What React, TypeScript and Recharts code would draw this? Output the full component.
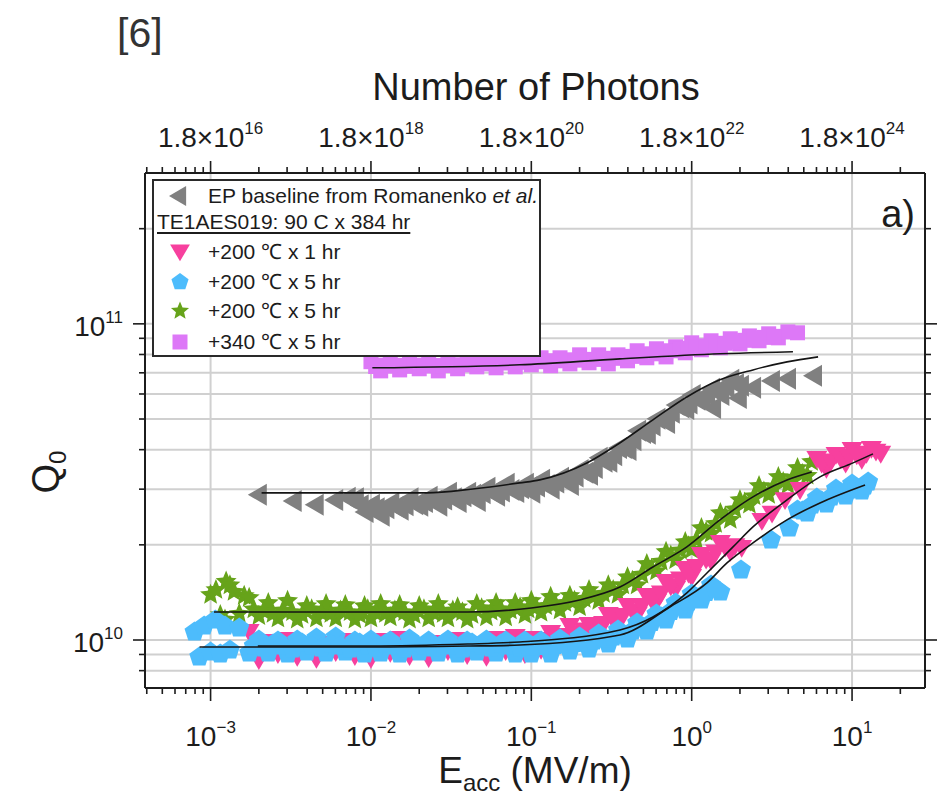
import React from 'react';
import { ScatterChart, Scatter, XAxis, YAxis, CartesianGrid, Legend } from 'recharts';

const FONT = '"Liberation Sans", Arial, Helvetica, sans-serif';
const INK = '#1c1c1c';

const C_GRAY = '#808080';
const C_PINK = '#f7409e';
const C_BLUE = '#4dbcfc';
const C_GREEN = '#66a31a';
const C_MAG = '#dd78f7';

const X_DOMAIN: [number, number] = [3.9e-4, 28.5];
const Y_DOMAIN: [number, number] = [7.05e9, 3.0e11];

const X_TICKS = [
  4e-4, 5e-4, 6e-4, 7e-4, 8e-4, 9e-4,
  1e-3, 2e-3, 3e-3, 4e-3, 5e-3, 6e-3, 7e-3, 8e-3, 9e-3,
  1e-2, 2e-2, 3e-2, 4e-2, 5e-2, 6e-2, 7e-2, 8e-2, 9e-2,
  1e-1, 2e-1, 3e-1, 4e-1, 5e-1, 6e-1, 7e-1, 8e-1, 9e-1,
  1, 2, 3, 4, 5, 6, 7, 8, 9, 10, 20,
];
const X_GRID = [1e-3, 1e-2, 1e-1, 1, 10];
const Y_TICKS = [8e9, 9e9, 1e10, 2e10, 3e10, 4e10, 5e10, 6e10, 7e10, 8e10, 9e10, 1e11, 2e11];
const Y_GRID = [8e9, 9e9, 1e10, 2e10, 3e10, 4e10, 5e10, 6e10, 7e10, 8e10, 9e10, 1e11, 2e11];
const PHOTON_EXP: Record<string, number> = { '-3': 16, '-2': 18, '-1': 20, '0': 22, '1': 24 };

const LEGEND_HEAD = 'EP baseline from Romanenko ';
const LEGEND_SUB = 'TE1AES019: 90 C x 384 hr';
const LEGEND_ROWS = ['+200 \u2103 x 1 hr', '+200 \u2103 x 5 hr', '+200 \u2103 x 5 hr', '+340 \u2103 x 5 hr'];

// EP baseline (gray, left triangles)
const EP_BASELINE: [number, number][] = [
  [1.97e-3, 2.88e10], [3.25e-3, 2.75e10], [4.46e-3, 2.68e10], [5.9e-3, 2.77e10], [7.06e-3, 2.82e10],
  [7.94e-3, 2.81e10], [9.12e-3, 2.54e10], [1.0e-2, 2.68e10], [1.15e-2, 2.47e10], [1.32e-2, 2.71e10],
  [1.51e-2, 2.58e10], [1.74e-2, 2.81e10], [2.0e-2, 2.66e10], [2.29e-2, 2.84e10], [2.63e-2, 2.66e10],
  [3.02e-2, 2.92e10], [3.47e-2, 2.73e10], [3.98e-2, 2.92e10], [4.57e-2, 2.75e10], [5.25e-2, 3.03e10],
  [6.03e-2, 2.86e10], [6.92e-2, 3.12e10], [7.94e-2, 2.94e10], [9.12e-2, 3.12e10], [1.0e-1, 2.92e10],
  [1.15e-1, 3.21e10], [1.32e-1, 3.01e10], [1.51e-1, 3.26e10], [1.74e-1, 3.09e10], [2.0e-1, 3.45e10],
  [2.29e-1, 3.33e10], [2.63e-1, 3.77e10], [3.02e-1, 3.66e10], [3.47e-1, 4.05e10], [3.98e-1, 3.99e10],
  [4.57e-1, 4.59e10], [5.25e-1, 4.49e10], [6.03e-1, 5.01e10], [6.92e-1, 4.86e10], [7.94e-1, 5.54e10],
  [9.12e-1, 5.38e10], [1.0, 5.96e10], [1.15, 5.71e10], [1.32, 6.23e10], [1.51, 5.96e10],
  [1.74, 6.65e10], [2.0, 6.37e10],
  [1.34, 5.42e10], [1.94, 5.83e10], [2.38, 6.28e10], [3.12, 6.6e10], [3.93, 6.7e10], [5.71, 6.85e10],
];
const EP_BASELINE_MID: [number, number][] = [
  [8.51e-3, 2.67e10], [9.55e-3, 2.63e10], [1.07e-2, 2.61e10], [1.23e-2, 2.61e10], [1.41e-2, 2.64e10],
  [1.62e-2, 2.67e10], [1.86e-2, 2.69e10], [2.14e-2, 2.73e10], [2.45e-2, 2.76e10], [2.82e-2, 2.78e10],
  [3.24e-2, 2.81e10], [3.72e-2, 2.85e10], [4.27e-2, 2.88e10], [4.9e-2, 2.91e10], [5.62e-2, 2.93e10],
  [6.46e-2, 2.95e10], [7.41e-2, 2.98e10], [8.51e-2, 3.02e10], [9.55e-2, 3.04e10],
  [1.07e-1, 3.06e10], [1.23e-1, 3.09e10], [1.41e-1, 3.15e10], [1.62e-1, 3.22e10], [1.86e-1, 3.29e10],
  [2.14e-1, 3.38e10], [2.45e-1, 3.5e10], [2.82e-1, 3.66e10], [3.24e-1, 3.84e10], [3.72e-1, 4.05e10],
  [4.27e-1, 4.28e10], [4.9e-1, 4.52e10], [5.62e-1, 4.77e10], [6.46e-1, 5.01e10], [7.41e-1, 5.23e10],
  [8.51e-1, 5.44e10], [9.55e-1, 5.6e10], [1.07, 5.75e10], [1.23, 5.94e10], [1.41, 6.14e10],
  [1.62, 6.3e10], [1.86, 6.44e10],
];

// +200 C x 5 hr (green stars)
const GREEN_PTS: [number, number][] = [
  [1.0e-3, 1.39e10], [1.08e-3, 1.44e10], [1.15e-3, 1.2e10], [1.23e-3, 1.16e10], [1.25e-3, 1.53e10],
  [1.32e-3, 1.49e10], [1.4e-3, 1.42e10], [1.51e-3, 1.21e10], [1.62e-3, 1.38e10], [1.74e-3, 1.36e10],
  [2.0e-3, 1.19e10], [2.29e-3, 1.31e10], [2.63e-3, 1.17e10], [3.02e-3, 1.33e10], [3.47e-3, 1.16e10],
  [3.98e-3, 1.28e10], [4.57e-3, 1.17e10], [5.25e-3, 1.3e10], [6.03e-3, 1.17e10], [6.92e-3, 1.29e10],
  [7.94e-3, 1.16e10], [9.12e-3, 1.28e10],
  [1.0e-2, 1.17e10], [1.15e-2, 1.3e10], [1.32e-2, 1.18e10], [1.51e-2, 1.29e10], [1.74e-2, 1.16e10],
  [2.0e-2, 1.28e10], [2.29e-2, 1.17e10], [2.63e-2, 1.3e10], [3.02e-2, 1.17e10], [3.47e-2, 1.27e10],
  [3.98e-2, 1.16e10], [4.57e-2, 1.3e10], [5.25e-2, 1.18e10], [6.03e-2, 1.31e10], [6.92e-2, 1.18e10],
  [7.94e-2, 1.31e10], [9.12e-2, 1.2e10],
  [1.0e-1, 1.33e10], [1.15e-1, 1.22e10], [1.32e-1, 1.37e10], [1.51e-1, 1.24e10], [1.74e-1, 1.38e10],
  [2.0e-1, 1.27e10], [2.29e-1, 1.44e10], [2.63e-1, 1.33e10], [3.02e-1, 1.49e10], [3.47e-1, 1.39e10],
  [3.98e-1, 1.58e10], [4.57e-1, 1.49e10], [5.25e-1, 1.74e10], [6.03e-1, 1.65e10], [6.92e-1, 1.9e10],
  [7.94e-1, 1.79e10], [9.12e-1, 2.04e10],
  [1.0, 1.93e10], [1.15, 2.26e10], [1.32, 2.17e10], [1.51, 2.52e10], [1.74, 2.4e10], [2.0, 2.77e10],
  [2.29, 2.68e10], [2.63, 3.07e10], [3.02, 2.88e10], [3.47, 3.28e10], [3.98, 3.09e10], [4.57, 3.5e10],
  [5.25, 3.31e10], [5.6, 3.66e10],
];
const GREEN_MID: [number, number][] = [
  [1.86e-3, 1.25e10], [2.14e-3, 1.235e10], [2.45e-3, 1.21e10], [2.82e-3, 1.24e10], [3.24e-3, 1.225e10],
  [3.72e-3, 1.2e10], [4.27e-3, 1.25e10], [4.9e-3, 1.22e10], [5.62e-3, 1.21e10], [6.46e-3, 1.24e10],
  [7.41e-3, 1.225e10], [8.51e-3, 1.2e10], [9.55e-3, 1.25e10],
  [1.07e-2, 1.22e10], [1.23e-2, 1.21e10], [1.41e-2, 1.24e10], [1.62e-2, 1.225e10], [1.86e-2, 1.2e10],
  [2.14e-2, 1.25e10], [2.45e-2, 1.22e10], [2.82e-2, 1.21e10], [3.24e-2, 1.24e10], [3.72e-2, 1.225e10],
  [4.27e-2, 1.2e10], [4.9e-2, 1.26e10], [5.62e-2, 1.23e10], [6.46e-2, 1.25e10], [7.41e-2, 1.24e10],
  [8.51e-2, 1.27e10], [9.55e-2, 1.25e10],
  [1.07e-1, 1.27e10], [1.23e-1, 1.28e10], [1.41e-1, 1.3e10], [1.62e-1, 1.31e10], [1.86e-1, 1.33e10],
  [2.14e-1, 1.35e10], [2.45e-1, 1.37e10], [2.82e-1, 1.4e10], [3.24e-1, 1.44e10], [3.72e-1, 1.49e10],
  [4.27e-1, 1.54e10], [4.9e-1, 1.61e10], [5.62e-1, 1.68e10], [6.46e-1, 1.77e10], [7.41e-1, 1.85e10],
  [8.51e-1, 1.92e10], [9.55e-1, 1.98e10],
  [1.07, 2.07e10], [1.23, 2.2e10], [1.41, 2.33e10], [1.62, 2.46e10], [1.86, 2.59e10], [2.14, 2.72e10],
  [2.45, 2.85e10], [2.82, 2.95e10], [3.24, 3.06e10], [3.72, 3.16e10], [4.27, 3.26e10], [4.9, 3.35e10],
];

// +200 C x 1 hr (pink down triangles)
const PINK_PTS: [number, number][] = [
  [1.74e-3, 1.06e10], [2.0e-3, 8.64e9], [2.29e-3, 9.86e9], [2.63e-3, 9.03e9], [3.02e-3, 1.0e10],
  [3.47e-3, 8.84e9], [3.98e-3, 9.5e9], [4.57e-3, 8.71e9], [5.25e-3, 9.71e9], [6.03e-3, 9.16e9],
  [6.92e-3, 9.93e9], [7.94e-3, 8.9e9], [9.12e-3, 9.57e9],
  [1.0e-2, 8.71e9], [1.15e-2, 9.93e9], [1.32e-2, 9.1e9], [1.51e-2, 1.007e10], [1.74e-2, 8.9e9],
  [2.0e-2, 9.57e9], [2.29e-2, 8.77e9], [2.63e-2, 9.78e9], [3.02e-2, 9.23e9], [3.47e-2, 1.0e10],
  [3.98e-2, 8.96e9], [4.57e-2, 9.64e9], [5.25e-2, 8.84e9], [6.03e-2, 1.007e10], [6.92e-2, 9.23e9],
  [7.94e-2, 1.022e10], [9.12e-2, 9.03e9],
  [1.0e-1, 1.007e10], [1.15e-1, 9.3e9], [1.32e-1, 1.052e10], [1.51e-1, 1.007e10], [1.74e-1, 1.107e10],
  [2.0e-1, 1.015e10], [2.29e-1, 1.116e10], [2.63e-1, 1.06e10], [3.02e-1, 1.2e10], [3.47e-1, 1.14e10],
  [3.98e-1, 1.281e10], [4.57e-1, 1.2e10], [5.25e-1, 1.378e10], [6.03e-1, 1.319e10], [6.92e-1, 1.526e10],
  [7.94e-1, 1.45e10], [9.12e-1, 1.677e10],
  [1.0, 1.583e10], [1.15, 1.858e10], [1.32, 1.778e10], [1.51, 2.028e10], [1.74, 1.899e10], [2.05, 1.955e10],
  [2.74, 2.38e10], [3.17, 2.51e10], [3.82, 2.77e10], [4.74, 2.98e10],
  [6.03, 3.74e10], [6.92, 3.48e10], [7.94, 3.85e10], [9.12, 3.61e10], [10.0, 3.99e10], [11.5, 3.71e10],
  [13.2, 4.02e10], [15.1, 3.88e10],
];
const PINK_MID: [number, number][] = [
  [1.07e-1, 9.89e9], [1.23e-1, 1.0e10], [1.41e-1, 1.015e10], [1.62e-1, 1.03e10], [1.86e-1, 1.048e10],
  [2.14e-1, 1.072e10], [2.45e-1, 1.095e10], [2.82e-1, 1.124e10], [3.24e-1, 1.157e10], [3.72e-1, 1.191e10],
  [4.27e-1, 1.231e10], [4.9e-1, 1.281e10], [5.62e-1, 1.339e10], [6.46e-1, 1.403e10], [7.41e-1, 1.477e10],
  [8.51e-1, 1.554e10], [9.55e-1, 1.623e10],
  [1.07, 1.702e10], [1.23, 1.797e10], [1.41, 1.89e10], [1.62, 1.963e10], [1.86, 1.98e10],
  [6.46, 3.61e10], [7.41, 3.67e10], [8.51, 3.74e10], [9.55, 3.8e10], [10.7, 3.84e10], [12.3, 3.88e10],
  [14.1, 3.94e10],
];

// +200 C x 5 hr (blue pentagons)
const BLUE_PTS: [number, number][] = [
  [7.94e-4, 1.06e10], [8.5e-4, 8.84e9], [9.12e-4, 1.107e10], [1.0e-3, 9.16e9], [1.07e-3, 1.157e10],
  [1.15e-3, 9.03e9], [1.23e-3, 1.107e10], [1.32e-3, 9.3e9], [1.51e-3, 1.091e10], [1.74e-3, 9.1e9],
  [2.0e-3, 1.0e10], [2.29e-3, 9.1e9], [2.63e-3, 9.93e9], [3.02e-3, 9.03e9], [3.47e-3, 1.0e10],
  [3.98e-3, 9.16e9], [4.57e-3, 1.015e10], [5.25e-3, 9.1e9], [6.03e-3, 1.022e10], [6.92e-3, 9.16e9],
  [7.94e-3, 9.93e9], [9.12e-3, 9.03e9],
  [1.0e-2, 1.0e10], [1.15e-2, 9.1e9], [1.32e-2, 9.93e9], [1.51e-2, 9.03e9], [1.74e-2, 1.007e10],
  [2.0e-2, 9.16e9], [2.29e-2, 9.93e9], [2.63e-2, 9.1e9], [3.02e-2, 1.0e10], [3.47e-2, 9.03e9],
  [3.98e-2, 9.93e9], [4.57e-2, 9.16e9], [5.25e-2, 1.0e10], [6.03e-2, 9.1e9], [6.92e-2, 9.93e9],
  [7.94e-2, 9.03e9], [9.12e-2, 9.93e9],
  [1.0e-1, 9.03e9], [1.15e-1, 9.93e9], [1.32e-1, 9.03e9], [1.51e-1, 1.007e10], [1.74e-1, 9.23e9],
  [2.0e-1, 1.022e10], [2.29e-1, 9.37e9], [2.63e-1, 1.045e10], [3.02e-1, 9.71e9], [3.47e-1, 1.076e10],
  [3.98e-1, 1.007e10], [4.57e-1, 1.132e10], [5.25e-1, 1.068e10], [6.03e-1, 1.208e10], [6.92e-1, 1.157e10],
  [7.94e-1, 1.31e10], [9.12e-1, 1.244e10],
  [1.0, 1.398e10], [1.15, 1.339e10], [1.32, 1.493e10], [1.51, 1.419e10],
  [2.03, 1.665e10], [3.12, 2.073e10], [4.05, 2.262e10],
  [4.57, 2.579e10], [5.25, 2.523e10], [6.03, 2.814e10], [6.92, 2.694e10], [7.94, 3.005e10],
  [9.12, 2.856e10], [10.0, 3.116e10], [11.5, 2.962e10], [12.6, 3.162e10],
];
const BLUE_MID: [number, number][] = [
  [1.86e-3, 9.57e9], [2.14e-3, 9.43e9], [2.45e-3, 9.71e9], [2.82e-3, 9.57e9], [3.24e-3, 9.37e9],
  [3.72e-3, 9.78e9], [4.27e-3, 9.57e9], [4.9e-3, 9.43e9], [5.62e-3, 9.71e9], [6.46e-3, 9.57e9],
  [7.41e-3, 9.37e9], [8.51e-3, 9.78e9], [9.55e-3, 9.57e9],
  [1.07e-2, 9.43e9], [1.23e-2, 9.71e9], [1.41e-2, 9.57e9], [1.62e-2, 9.37e9], [1.86e-2, 9.78e9],
  [2.14e-2, 9.57e9], [2.45e-2, 9.43e9], [2.82e-2, 9.71e9], [3.24e-2, 9.57e9], [3.72e-2, 9.37e9],
  [4.27e-2, 9.78e9], [4.9e-2, 9.57e9], [5.62e-2, 9.43e9], [6.46e-2, 9.71e9], [7.41e-2, 9.57e9],
  [8.51e-2, 9.43e9], [9.55e-2, 9.5e9],
  [1.07e-1, 9.53e9], [1.23e-1, 9.57e9], [1.41e-1, 9.6e9], [1.62e-1, 9.67e9], [1.86e-1, 9.75e9],
  [2.14e-1, 9.82e9], [2.45e-1, 9.93e9], [2.82e-1, 1.007e10], [3.24e-1, 1.022e10], [3.72e-1, 1.041e10],
  [4.27e-1, 1.068e10], [4.9e-1, 1.099e10], [5.62e-1, 1.136e10], [6.46e-1, 1.182e10], [7.41e-1, 1.231e10],
  [8.51e-1, 1.277e10], [9.55e-1, 1.319e10],
  [1.07, 1.363e10], [1.23, 1.414e10], [1.41, 1.45e10],
  [4.9, 2.56e10], [5.62, 2.675e10], [6.46, 2.754e10], [7.41, 2.835e10], [8.51, 2.92e10], [9.55, 2.984e10],
  [10.7, 3.027e10], [12.0, 3.072e10],
];

// +340 C x 5 hr (magenta squares)
const MAG_PTS: [number, number][] = [
  [1.0e-2, 7.59e10], [1.15e-2, 7.1e10], [1.32e-2, 7.53e10], [1.51e-2, 7.15e10], [1.74e-2, 7.64e10],
  [2.0e-2, 7.21e10], [2.29e-2, 7.59e10], [2.63e-2, 7.1e10], [3.02e-2, 7.53e10], [3.47e-2, 7.21e10],
  [3.98e-2, 7.69e10], [4.57e-2, 7.31e10], [5.25e-2, 7.69e10], [6.03e-2, 7.26e10], [6.92e-2, 7.69e10],
  [7.94e-2, 7.31e10], [9.12e-2, 7.86e10],
  [1.0e-1, 7.42e10], [1.15e-1, 7.81e10], [1.32e-1, 7.37e10], [1.51e-1, 7.81e10], [1.74e-1, 7.47e10],
  [2.0e-1, 7.98e10], [2.29e-1, 7.53e10], [2.63e-1, 7.98e10], [3.02e-1, 7.47e10], [3.47e-1, 7.98e10],
  [3.98e-1, 7.64e10], [4.57e-1, 8.22e10], [5.25e-1, 7.81e10], [6.03e-1, 8.34e10], [6.92e-1, 7.86e10],
  [7.94e-1, 8.46e10], [9.12e-1, 8.1e10],
  [1.0, 8.71e10], [1.15, 8.28e10], [1.32, 8.84e10], [1.51, 8.4e10], [1.74, 8.97e10], [2.0, 8.64e10],
  [2.29, 9.16e10], [2.63, 8.84e10], [3.02, 9.3e10], [3.47, 9.03e10], [3.98, 9.43e10], [4.57, 9.37e10],
];
const MAG_MID: [number, number][] = [
  [1.07e-2, 7.33e10], [1.23e-2, 7.4e10], [1.41e-2, 7.35e10], [1.62e-2, 7.39e10], [1.86e-2, 7.34e10],
  [2.14e-2, 7.4e10], [2.45e-2, 7.36e10], [2.82e-2, 7.38e10], [3.24e-2, 7.39e10], [3.72e-2, 7.42e10],
  [4.27e-2, 7.45e10], [4.9e-2, 7.47e10], [5.62e-2, 7.5e10], [6.46e-2, 7.53e10], [7.41e-2, 7.53e10],
  [8.51e-2, 7.56e10], [9.55e-2, 7.59e10],
  [1.07e-1, 7.59e10], [1.23e-1, 7.61e10], [1.41e-1, 7.64e10], [1.62e-1, 7.67e10], [1.86e-1, 7.69e10],
  [2.14e-1, 7.69e10], [2.45e-1, 7.72e10], [2.82e-1, 7.75e10], [3.24e-1, 7.78e10], [3.72e-1, 7.84e10],
  [4.27e-1, 7.89e10], [4.9e-1, 7.95e10], [5.62e-1, 8.04e10], [6.46e-1, 8.13e10], [7.41e-1, 8.22e10],
  [8.51e-1, 8.31e10], [9.55e-1, 8.37e10],
  [1.07, 8.43e10], [1.23, 8.52e10], [1.41, 8.62e10], [1.62, 8.68e10], [1.86, 8.77e10], [2.14, 8.87e10],
  [2.45, 8.97e10], [2.82, 9.06e10], [3.24, 9.13e10],
];

// fit curves
const FIT_EP: [number, number][] = [
  [2.08e-3, 2.92e10], [2.23e-2, 2.92e10], [4.32e-2, 3.005e10], [8.47e-2, 3.14e10], [1.13e-1, 3.21e10],
  [2.22e-1, 3.63e10], [3.56e-1, 4.2e10], [5.73e-1, 4.97e10], [9.33e-1, 5.87e10], [1.5, 6.65e10],
  [2.41, 7.15e10], [3.93, 7.58e10], [6.14, 7.86e10],
];
const FIT_GREEN: [number, number][] = [
  [1.05e-3, 1.226e10], [1.0e-2, 1.226e10], [4.0e-2, 1.226e10], [1.0e-1, 1.263e10], [2.0e-1, 1.339e10],
  [3.57e-1, 1.471e10], [5.73e-1, 1.702e10], [9.33e-1, 1.97e10], [1.5, 2.398e10], [2.41, 2.835e10],
  [3.93, 3.209e10], [5.6, 3.402e10],
];
const FIT_PINK: [number, number][] = [
  [1.97e-3, 9.57e9], [1.0e-2, 9.57e9], [4.0e-2, 9.71e9], [8.47e-2, 9.86e9], [3.57e-1, 1.076e10],
  [5.73e-1, 1.182e10], [9.33e-1, 1.409e10], [1.245, 1.629e10], [1.81, 1.97e10], [2.41, 2.278e10],
  [3.93, 2.774e10], [6.31, 3.281e10], [10.14, 3.633e10], [13.5, 3.879e10],
];
const FIT_BLUE: [number, number][] = [
  [8.54e-4, 9.5e9], [1.0e-2, 9.5e9], [4.0e-2, 9.57e9], [8.47e-2, 9.64e9], [3.57e-1, 1.037e10],
  [7.31e-1, 1.272e10], [1.245, 1.515e10], [1.66, 1.753e10], [2.41, 2.028e10], [3.93, 2.398e10],
  [6.31, 2.714e10], [12.05, 3.094e10],
];
const FIT_MAG: [number, number][] = [
  [1.02e-2, 7.26e10], [8.47e-2, 7.42e10], [3.57e-1, 7.75e10], [1.5, 8.04e10], [4.28, 8.16e10],
];

const toXY = (...arrs: [number, number][][]) => arrs.flat().map(([x, y]) => ({ x, y }));

const isDecade = (v: number) => Math.abs(Math.log10(v) - Math.round(Math.log10(v))) < 1e-6;
const expOf = (v: number) => Math.round(Math.log10(v));
const fmtExp = (n: number) => (n < 0 ? '\u2212' + Math.abs(n) : String(n));

// marker shapes
const triLeft = (cx: number, cy: number, fill: string, s = 18) => (
  <polygon points={`${cx - s * 0.5},${cy} ${cx + s * 0.45},${cy - s * 0.55} ${cx + s * 0.45},${cy + s * 0.55}`} fill={fill} />
);
const triDown = (cx: number, cy: number, fill: string, s = 18) => (
  <polygon points={`${cx - s * 0.55},${cy - s * 0.42} ${cx + s * 0.55},${cy - s * 0.42} ${cx},${cy + s * 0.52}`} fill={fill} />
);
const pentagon = (cx: number, cy: number, fill: string, r = 9) => {
  const pts = [0, 1, 2, 3, 4]
    .map((k) => {
      const a = ((-90 + 72 * k) * Math.PI) / 180;
      return `${cx + r * Math.cos(a)},${cy + r * Math.sin(a)}`;
    })
    .join(' ');
  return <polygon points={pts} fill={fill} />;
};
const star = (cx: number, cy: number, fill: string, r = 9.5) => {
  const pts = Array.from({ length: 10 }, (_, k) => {
    const rr = k % 2 === 0 ? r : r * 0.45;
    const a = ((-90 + 36 * k) * Math.PI) / 180;
    return `${cx + rr * Math.cos(a)},${cy + rr * Math.sin(a)}`;
  }).join(' ');
  return <polygon points={pts} fill={fill} />;
};
const square = (cx: number, cy: number, fill: string, s = 15) => (
  <rect x={cx - s / 2} y={cy - s / 2} width={s} height={s} fill={fill} />
);

// ticks
const BottomTick = (p: any) => {
  const { x, y, payload } = p;
  const v = payload.value;
  const major = isDecade(v);
  return (
    <g>
      <line x1={x} x2={x} y1={y} y2={y + (major ? 13 : 6)} stroke={INK} strokeWidth={1.6} />
      {major && (
        <text x={x} y={y + 58} textAnchor="middle" fontFamily={FONT} fontSize={28} fill={INK}>
          10
          <tspan dy={-13} fontSize={17}>{fmtExp(expOf(v))}</tspan>
        </text>
      )}
    </g>
  );
};
const TopTick = (p: any) => {
  const { x, y, payload } = p;
  const v = payload.value;
  const major = isDecade(v);
  return (
    <g>
      <line x1={x} x2={x} y1={y} y2={y - (major ? 12 : 6)} stroke={INK} strokeWidth={1.6} />
      {major && (
        <text x={x} y={y - 26} textAnchor="middle" fontFamily={FONT} fontSize={28} fill={INK}>
          1.8{'\u00d7'}10
          <tspan dy={-13} fontSize={17}>{PHOTON_EXP[String(expOf(v))]}</tspan>
        </text>
      )}
    </g>
  );
};
const LeftTick = (p: any) => {
  const { x, y, payload } = p;
  const v = payload.value;
  const major = isDecade(v);
  return (
    <g>
      <line x1={x} x2={x - (major ? 12 : 6)} y1={y} y2={y} stroke={INK} strokeWidth={1.6} />
      {major && (
        <text x={x - 22} y={y + 12} textAnchor="end" fontFamily={FONT} fontSize={28} fill={INK}>
          10
          <tspan dy={-13} fontSize={17}>{expOf(v)}</tspan>
        </text>
      )}
    </g>
  );
};
const RightTick = (p: any) => {
  const { x, y, payload } = p;
  const major = isDecade(payload.value);
  return <line x1={x} x2={x + (major ? 12 : 6)} y1={y} y2={y} stroke={INK} strokeWidth={1.6} />;
};

// grid coordinate generators through the axis scale
const logPos = (v: number, d: [number, number], start: number, size: number, invert: boolean) => {
  const t = (Math.log10(v) - Math.log10(d[0])) / (Math.log10(d[1]) - Math.log10(d[0]));
  return invert ? start + size * (1 - t) : start + size * t;
};
const applyScale = (s: any, v: number) => {
  if (typeof s === 'function') return s(v);
  if (s && typeof s.map === 'function') return s.map(v);
  return undefined;
};
const vGen = (p: any) =>
  X_GRID.map((v) => {
    const r = applyScale(p?.xAxis?.scale, v);
    return typeof r === 'number' && isFinite(r) ? r : logPos(v, X_DOMAIN, p.offset.left, p.offset.width, false);
  });
const hGen = (p: any) =>
  Y_GRID.map((v) => {
    const r = applyScale(p?.yAxis?.scale, v);
    return typeof r === 'number' && isFinite(r) ? r : logPos(v, Y_DOMAIN, p.offset.top, p.offset.height, true);
  });

const LegendBox = () => {
  const row = (top: number, left: number, text: React.ReactNode, extra: React.CSSProperties = {}) => (
    <div style={{ position: 'absolute', top, left, lineHeight: '24px', whiteSpace: 'nowrap', ...extra }}>{text}</div>
  );
  const mk = (top: number, left: number, node: React.ReactNode) => (
    <svg width={24} height={24} style={{ position: 'absolute', top, left }}>
      {node}
    </svg>
  );
  return (
    <div
      style={{
        position: 'relative',
        width: 389,
        height: 178,
        boxSizing: 'border-box',
        border: '2px solid #2a2a2a',
        background: '#fff',
        fontFamily: FONT,
        fontSize: 21,
        color: INK,
      }}
    >
      {mk(3, 12, triLeft(12, 12, C_GRAY, 18))}
      {row(3, 54, <span>{LEGEND_HEAD}<i>et al.</i></span>)}
      {row(29, 3, LEGEND_SUB, { textDecoration: 'underline', textDecorationThickness: '1.5px', textUnderlineOffset: '3px' })}
      {mk(59, 14, triDown(12, 12, C_PINK, 18))}
      {row(59, 54, LEGEND_ROWS[0])}
      {mk(89, 14, pentagon(12, 12, C_BLUE, 9))}
      {row(89, 54, LEGEND_ROWS[1])}
      {mk(118, 14, star(12, 12, C_GREEN, 9.5))}
      {row(118, 54, LEGEND_ROWS[2])}
      {mk(149, 14, square(12, 12, C_MAG, 15))}
      {row(149, 54, LEGEND_ROWS[3])}
    </div>
  );
};

const noShape = () => <g />;
const fitLine = { stroke: '#151515', strokeWidth: 1.6 };

export default function App() {
  return (
    <div style={{ position: 'absolute', left: 0, top: 0, width: 941, height: 795, background: '#fff', fontFamily: FONT }}>
      <ScatterChart width={941} height={795} margin={{ top: 113, right: 6, bottom: 47, left: 85 }}>
        <CartesianGrid
          xAxisId="b"
          yAxisId="l"
          stroke="#d0d0d0"
          strokeWidth={2}
          verticalCoordinatesGenerator={vGen}
          horizontalCoordinatesGenerator={hGen}
        />
        <XAxis
          xAxisId="b"
          dataKey="x"
          type="number"
          scale="log"
          domain={X_DOMAIN}
          allowDataOverflow
          ticks={X_TICKS}
          interval={0}
          tickSize={0}
          tickMargin={0}
          tickLine={false}
          tick={BottomTick}
          height={60}
          axisLine={{ stroke: INK, strokeWidth: 2 }}
        />
        <XAxis
          xAxisId="t"
          orientation="top"
          dataKey="x"
          type="number"
          scale="log"
          domain={X_DOMAIN}
          allowDataOverflow
          ticks={X_TICKS}
          interval={0}
          tickSize={0}
          tickMargin={0}
          tickLine={false}
          tick={TopTick}
          height={60}
          axisLine={{ stroke: INK, strokeWidth: 2 }}
        />
        <YAxis
          yAxisId="l"
          dataKey="y"
          type="number"
          scale="log"
          domain={Y_DOMAIN}
          allowDataOverflow
          ticks={Y_TICKS}
          interval={0}
          tickSize={0}
          tickMargin={0}
          tickLine={false}
          tick={LeftTick}
          width={60}
          axisLine={{ stroke: INK, strokeWidth: 2 }}
        />
        <YAxis
          yAxisId="r"
          orientation="right"
          dataKey="y"
          type="number"
          scale="log"
          domain={Y_DOMAIN}
          allowDataOverflow
          ticks={Y_TICKS}
          interval={0}
          tickSize={0}
          tickMargin={0}
          tickLine={false}
          tick={RightTick}
          width={10}
          axisLine={{ stroke: INK, strokeWidth: 2 }}
        />
        <Legend
          content={() => <LegendBox />}
          layout="horizontal"
          verticalAlign="middle"
          align="center"
          wrapperStyle={{ left: 152, top: 179, width: 389, height: 178 }}
        />
        <Scatter name="mag" xAxisId="b" yAxisId="l" data={toXY(MAG_PTS, MAG_MID)} isAnimationActive={false}
          shape={(p: any) => square(p.cx, p.cy, C_MAG, 15)} />
        <Scatter name="ep" xAxisId="b" yAxisId="l" data={toXY(EP_BASELINE, EP_BASELINE_MID)} isAnimationActive={false}
          shape={(p: any) => triLeft(p.cx, p.cy, C_GRAY, 20)} />
        <Scatter name="green" xAxisId="b" yAxisId="l" data={toXY(GREEN_PTS, GREEN_MID)} isAnimationActive={false}
          shape={(p: any) => star(p.cx, p.cy, C_GREEN, 11)} />
        <Scatter name="pink" xAxisId="b" yAxisId="l" data={toXY(PINK_PTS, PINK_MID)} isAnimationActive={false}
          shape={(p: any) => triDown(p.cx, p.cy, C_PINK, 19)} />
        <Scatter name="blue" xAxisId="b" yAxisId="l" data={toXY(BLUE_PTS, BLUE_MID)} isAnimationActive={false}
          shape={(p: any) => pentagon(p.cx, p.cy, C_BLUE, 10.5)} />
        <Scatter name="fitMag" xAxisId="b" yAxisId="l" data={toXY(FIT_MAG)} isAnimationActive={false}
          line={fitLine} lineJointType="monotoneX" shape={noShape} legendType="none" />
        <Scatter name="fitEp" xAxisId="b" yAxisId="l" data={toXY(FIT_EP)} isAnimationActive={false}
          line={fitLine} lineJointType="monotoneX" shape={noShape} legendType="none" />
        <Scatter name="fitGreen" xAxisId="b" yAxisId="l" data={toXY(FIT_GREEN)} isAnimationActive={false}
          line={fitLine} lineJointType="monotoneX" shape={noShape} legendType="none" />
        <Scatter name="fitPink" xAxisId="b" yAxisId="l" data={toXY(FIT_PINK)} isAnimationActive={false}
          line={fitLine} lineJointType="monotoneX" shape={noShape} legendType="none" />
        <Scatter name="fitBlue" xAxisId="b" yAxisId="l" data={toXY(FIT_BLUE)} isAnimationActive={false}
          line={fitLine} lineJointType="monotoneX" shape={noShape} legendType="none" />
      </ScatterChart>
      <svg width={941} height={795} style={{ position: 'absolute', left: 0, top: 0, pointerEvents: 'none' }}>
        <text x={117} y={47} fontFamily={FONT} fontSize={41} fill="#333">[6]</text>
        <text x={536} y={100} textAnchor="middle" fontFamily={FONT} fontSize={38} fill={INK}>Number of Photons</text>
        <text x={535} y={783} textAnchor="middle" fontFamily={FONT} fontSize={37} fill={INK}>
          E<tspan dy={8} fontSize={24}>acc</tspan><tspan dy={-8} fontSize={37}> (MV/m)</tspan>
        </text>
        <text transform="translate(59,472) rotate(-90)" textAnchor="middle" fontFamily={FONT} fontSize={38} fill={INK}>
          Q<tspan dy={7} fontSize={24}>0</tspan>
        </text>
        <text x={915} y={227} textAnchor="end" fontFamily={FONT} fontSize={38} fill={INK}>a)</text>
      </svg>
    </div>
  );
}
